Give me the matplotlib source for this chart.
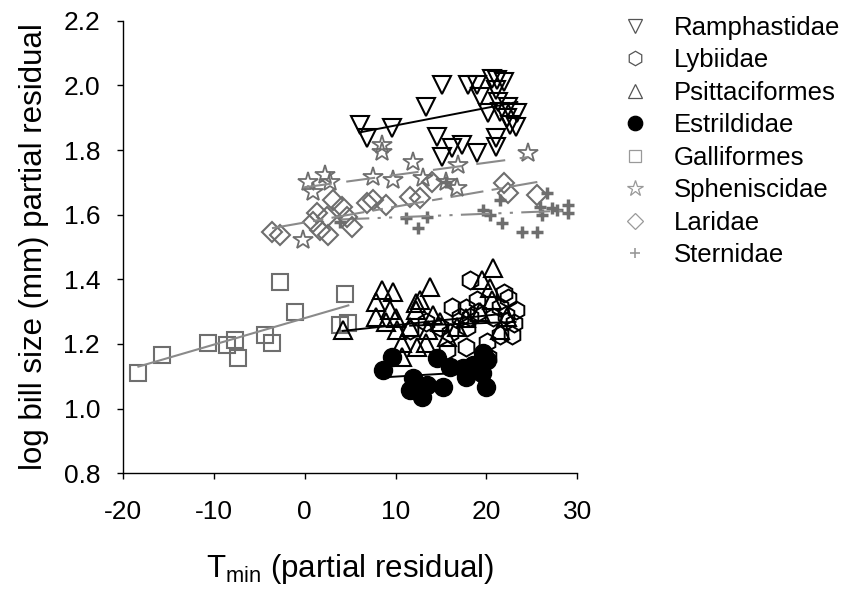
import matplotlib
matplotlib.use("Agg")
import matplotlib.pyplot as plt
from matplotlib.lines import Line2D
import numpy as np

plt.rcParams['font.family'] = ['Liberation Sans', 'DejaVu Sans']
plt.rcParams['mathtext.fontset'] = 'custom'
plt.rcParams['mathtext.rm'] = 'Liberation Sans'

families = ['Ramphastidae', 'Lybiidae', 'Psittaciformes', 'Estrildidae',
            'Galliformes', 'Spheniscidae', 'Laridae', 'Sternidae']

ramph_x = [6.1, 6.9, 9.6, 13.3, 15.1, 14.6, 15.1, 16.2, 17.3, 19.0, 18.0, 19.0, 19.3,
           21.2, 21.9, 21.0, 21.3, 21.0, 21.0, 20.2, 21.5, 22.3, 23.4, 22.6, 23.2, 22.4, 20.6]
ramph_y = [1.877, 1.837, 1.868, 1.933, 2.001, 1.840, 1.778, 1.806, 1.815, 1.791, 2.001, 2.001, 1.964,
           2.017, 2.011, 1.986, 1.949, 1.837, 1.809, 1.915, 1.918, 1.899, 1.915, 1.877, 1.871, 1.933, 2.020]

lyb_x = [18.2, 16.2, 17.7, 19.0, 21.9, 22.4, 17.1, 18.2, 19.1, 17.9, 17.7, 20.1, 21.5,
         23.0, 22.8, 20.2, 16.0, 14.9, 15.7, 20.7, 21.5, 11.6, 13.3, 23.2, 22.1]
lyb_y = [1.398, 1.314, 1.311, 1.336, 1.357, 1.342, 1.283, 1.283, 1.298, 1.252, 1.190, 1.206, 1.227,
         1.264, 1.227, 1.159, 1.233, 1.252, 1.181, 1.283, 1.314, 1.243, 1.267, 1.305, 1.289]

psit_x = [4.2, 8.5, 9.7, 13.8, 7.8, 7.8, 9.4, 10.0, 12.2, 12.7, 12.2, 14.1, 13.6, 11.6, 10.2,
          10.7, 10.7, 13.3, 15.7, 19.3, 19.5, 20.7, 20.4, 20.6, 22.3, 21.5, 16.8, 12.4, 8.9, 14.9, 17.7]
psit_y = [1.243, 1.367, 1.360, 1.376, 1.329, 1.283, 1.305, 1.280, 1.326, 1.336, 1.305, 1.289, 1.243,
          1.252, 1.243, 1.202, 1.159, 1.202, 1.221, 1.298, 1.398, 1.435, 1.373, 1.336, 1.283, 1.243,
          1.252, 1.190, 1.267, 1.267, 1.280]

estr_x = [8.6, 9.6, 11.9, 11.6, 12.9, 13.5, 15.2, 14.6, 16.0, 17.4, 17.7, 18.5, 19.5, 19.9, 20.1, 19.6]
estr_y = [1.119, 1.159, 1.094, 1.057, 1.035, 1.072, 1.066, 1.156, 1.128, 1.125, 1.097, 1.134,
          1.110, 1.066, 1.150, 1.172]

gall_x = [-18.3, -15.7, -10.6, -8.5, -7.7, -7.3, -4.4, -3.6, -2.7, -1.1, 4.4, 3.9, 4.8]
gall_y = [1.110, 1.165, 1.202, 1.196, 1.212, 1.156, 1.227, 1.202, 1.391, 1.298, 1.354, 1.258, 1.264]

sphen_x = [-0.2, 0.4, 0.9, 2.2, 2.8, 7.5, 9.7, 8.5, 8.5, 11.9, 13.0, 16.9, 16.8, 24.6, 15.5]
sphen_y = [1.521, 1.701, 1.670, 1.723, 1.701, 1.716, 1.707, 1.815, 1.794, 1.763, 1.713, 1.754,
           1.682, 1.791, 1.701]

lar_x = [-3.6, -2.7, 0.9, 1.4, 1.7, 2.5, 2.6, 3.1, 4.1, 4.7, 5.2, 6.9, 7.5, 8.9, 11.6, 12.7,
         14.0, 21.9, 22.4, 25.6]
lar_y = [1.546, 1.537, 1.577, 1.605, 1.552, 1.593, 1.537, 1.645, 1.624, 1.593, 1.562, 1.636,
         1.645, 1.630, 1.654, 1.651, 1.701, 1.698, 1.667, 1.661]

stern_x = [3.9, 11.1, 12.5, 13.5, 15.5, 19.6, 20.4, 21.7, 21.5, 23.9, 25.6, 26.7, 25.9, 27.2,
           27.8, 29.0, 29.0, 26.1]
stern_y = [1.577, 1.589, 1.558, 1.593, 1.701, 1.614, 1.599, 1.574, 1.645, 1.546, 1.546, 1.667,
           1.624, 1.620, 1.614, 1.630, 1.605, 1.599]

# fitted regression lines (intercept, slope) per family
fit_intercept = [1.822, 1.245, 1.228, 1.082, 1.280, 1.685, 1.576, 1.581]
fit_slope = [0.00543, 0.0010, 0.0030, 0.0017, 0.0082, 0.0038, 0.0049, 0.0011]

xs = [ramph_x, lyb_x, psit_x, estr_x, gall_x, sphen_x, lar_x, stern_x]
ys = [ramph_y, lyb_y, psit_y, estr_y, gall_y, sphen_y, lar_y, stern_y]

x_ticks = [-20, -10, 0, 10, 20, 30]
y_ticks = [0.8, 1.0, 1.2, 1.4, 1.6, 1.8, 2.0, 2.2]

GRAY = '#6e6e6e'
LGRAY = '#8a8a8a'
styles = [
    dict(marker='v', ms=12.5, mec='black', mfc='none', mew=1.5),
    dict(marker='h', ms=13, mec='black', mfc='none', mew=1.4),
    dict(marker='^', ms=12.5, mec='black', mfc='none', mew=1.5),
    dict(marker='o', ms=13, mec='black', mfc='black', mew=1.0),
    dict(marker='s', ms=11, mec=GRAY, mfc='none', mew=1.5),
    dict(marker='*', ms=14.5, mec=GRAY, mfc='none', mew=1.3),
    dict(marker='D', ms=10, mec=GRAY, mfc='none', mew=1.5),
    dict(marker='+', ms=9, mec=GRAY, mfc='none', mew=2.5),
]
line_styles = [
    dict(color='black', lw=1.4, ls='-'),
    dict(color='black', lw=1.4, ls='-'),
    dict(color='black', lw=1.4, ls='-'),
    dict(color='black', lw=1.4, ls='-'),
    dict(color=LGRAY, lw=1.5, ls='-'),
    dict(color=LGRAY, lw=1.5, ls=(0, (14, 7))),
    dict(color=LGRAY, lw=1.5, ls=(0, (16, 4, 5, 4))),
    dict(color=LGRAY, lw=1.5, ls=(0, (14, 4, 1.5, 4, 1.5, 4))),
]

fig = plt.figure(figsize=(8.54, 5.96), dpi=100)
ax = fig.add_axes([0.144, 0.206, 0.532, 0.759])

draw_order = [3, 4, 7, 6, 5, 2, 1, 0]
for i in draw_order:
    ax.plot(xs[i], ys[i], ls='none', **styles[i])
    x0, x1 = min(xs[i]), max(xs[i])
    lx = np.array([x0, x1])
    ax.plot(lx, fit_intercept[i] + fit_slope[i] * lx, **line_styles[i])

ax.set_xlim(-20, 30)
ax.set_ylim(0.8, 2.2)
ax.set_xticks(x_ticks)
ax.set_yticks(y_ticks)
ax.set_yticklabels([f'{v:.1f}' for v in y_ticks])
ax.set_xticklabels([f'{v:d}' for v in x_ticks])
for s in ['top', 'right']:
    ax.spines[s].set_visible(False)
for s in ['left', 'bottom']:
    ax.spines[s].set_linewidth(1.0)
ax.tick_params(direction='out', length=4.5, width=1.0, labelsize=19)
ax.tick_params(axis='y', pad=12)
ax.tick_params(axis='x', pad=15)

ax.set_xlabel(r'$\mathrm{T_{min}}$ (partial residual)', fontsize=22.5, labelpad=20)
ax.set_ylabel('log bill size (mm) partial residual', fontsize=22.5, labelpad=10)

handles = []
for i, name in enumerate(families):
    st = dict(styles[i])
    st['ms'] = st['ms'] * 0.8
    st['mew'] = 0.9 if st['marker'] != '+' else 1.2
    if st['mec'] == 'black' and st['mfc'] == 'none':
        st['mec'] = '#555555'
    if st['mec'] == GRAY:
        st['mec'] = '#999999'
    handles.append(Line2D([], [], ls='none', label=name, **st))
fig.legend(handles=handles, loc='upper left', bbox_to_anchor=(0.705, 1.008),
           frameon=False, fontsize=18.5, handlelength=1.0, handletextpad=1.0,
           labelspacing=0.33, borderpad=0.3)

fig.savefig('out.png', dpi=100)
